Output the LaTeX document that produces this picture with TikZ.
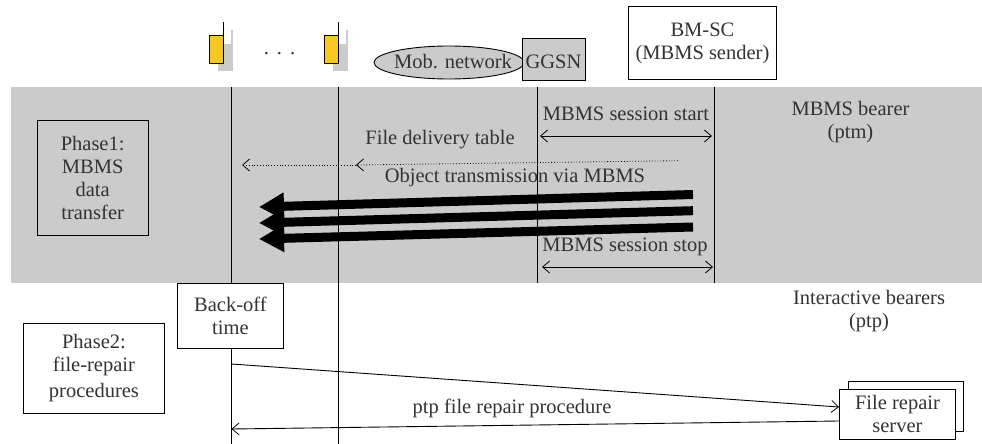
\documentclass[tikz,border=0pt]{standalone}
\usepackage{fontspec}
\setmainfont{Liberation Serif}
\usetikzlibrary{shapes.geometric,arrows.meta}
\definecolor{band}{HTML}{CBCBCB}
\definecolor{phoney}{HTML}{F5C822}
\definecolor{inktext}{HTML}{333333}
\tikzset{
  x=1pt,y=-1pt,
  every node/.style={font=\fontsize{20.5}{23}\selectfont,text=inktext,inner sep=0pt,align=center},
  boxn/.style={draw=black,line width=0.9pt,fill=white,anchor=north west},
  life/.style={line width=0.8pt,black},
  barb/.style={-{Straight Barb[length=7pt,width=12pt,line width=0.8pt]}},
  both arrow/.style={line width=0.9pt,{Straight Barb[length=7pt,width=12pt,line width=0.8pt]}-{Straight Barb[length=7pt,width=12pt,line width=0.8pt]}},
  fat/.style={line width=9pt,black,-{Triangle[length=25pt,width=26pt]}}
}
\begin{document}
\begin{tikzpicture}
\useasboundingbox (0,0) rectangle (982,444);
\fill[band] (11,87) rectangle (982,283);
% phones
\foreach \dx/\nm in {0/a,115/b}{
  \fill[band] (218+\dx,44) rectangle (232+\dx,71);
  \fill[band] (231+\dx,30) rectangle (232.5+\dx,71);
  \draw[fill=phoney,line width=0.9pt] (209.5+\dx,35.5) rectangle (223.5+\dx,63);
  \draw[line width=1.1pt] (223.5+\dx,22) -- (223.5+\dx,63);
}
\node at (279.5,53.5) {.\hspace{8pt}.\hspace{8pt}.};
\node[ellipse,draw=black,line width=0.9pt,fill=band,minimum width=150pt,minimum height=33pt] (net) at (449,62.5) {};
\node at (453,62) {Mob. network};
\node[boxn,fill=band,minimum width=63pt,minimum height=41pt] (ggsn) at (522,38.5) {};
\node at (553.5,62) {GGSN};
\node[boxn,minimum width=148pt,minimum height=73pt] (bm) at (628,6) {BM-SC\\(MBMS sender)};
% lifelines
\coordinate (l1t) at (231.5,87); \coordinate (l1b) at (231.5,444);
\coordinate (l2t) at (338,87);   \coordinate (l2b) at (338,444);
\coordinate (l3t) at (537.5,87); \coordinate (l3b) at (537.5,283);
\coordinate (l4t) at (714.5,87); \coordinate (l4b) at (714.5,283);
\draw[life] (l1t)--(l1b); \draw[life] (l2t)--(l2b); \draw[life] (l3t)--(l3b); \draw[life] (l4t)--(l4b);
% labels in band
\node at (626,114) {MBMS session start};
\coordinate (s1) at (540,136); \coordinate (s2) at (712,136);
\draw[both arrow] (s1)--(s2);
\node at (440,140) {File delivery table};
\coordinate (f0) at (678,160.7); \coordinate (f1) at (356,165); \coordinate (f2) at (242,165);
\draw[dotted,line width=0.8pt,barb] (f0)--(f1);
\draw[dotted,line width=0.8pt,barb] (f1)--(f2);
\node at (515,178) {Object transmission via MBMS};
\foreach \ya/\yb/\nm in {194.5/207/a,210.7/223/b,227/239/c}{
  \coordinate (o\nm) at (693,\ya); \coordinate (e\nm) at (259,\yb);
  \draw[fat] (o\nm)--(e\nm);
}
\node at (625,247) {MBMS session stop};
\coordinate (t1) at (542,267); \coordinate (t2) at (713,267);
\draw[both arrow] (t1)--(t2);
\node at (850.5,122) {MBMS bearer\\(ptm)};
\node at (869,311.5) {Interactive bearers\\(ptp)};
\node[boxn,fill=band,minimum width=111pt,minimum height=115.5pt] (p1) at (36.7,119.5) {Phase1:\\MBMS\\data\\transfer};
\node[boxn,minimum width=141pt,minimum height=90pt] (p2) at (23,323) {Phase2:\\file-repair\\[3pt]procedures};
\node[boxn,minimum width=106pt,minimum height=65pt] (bo) at (177,283) {Back-off\\time};
% repair server
\draw[line width=0.9pt,fill=white] (848,381.5) rectangle (963,431);
\node[boxn,minimum width=116pt,minimum height=50pt] (fr) at (839,389) {File repair\\server};
\coordinate (rb) at (231.5,364);
\coordinate (rc) at (231.5,429);
\draw[line width=0.9pt,barb] (rb)--(fr.west |- 0,407);
\draw[line width=0.9pt,barb] (fr.west |- 0,421)--(rc);
\node at (512,408) {ptp file repair procedure};
\end{tikzpicture}
\end{document}
